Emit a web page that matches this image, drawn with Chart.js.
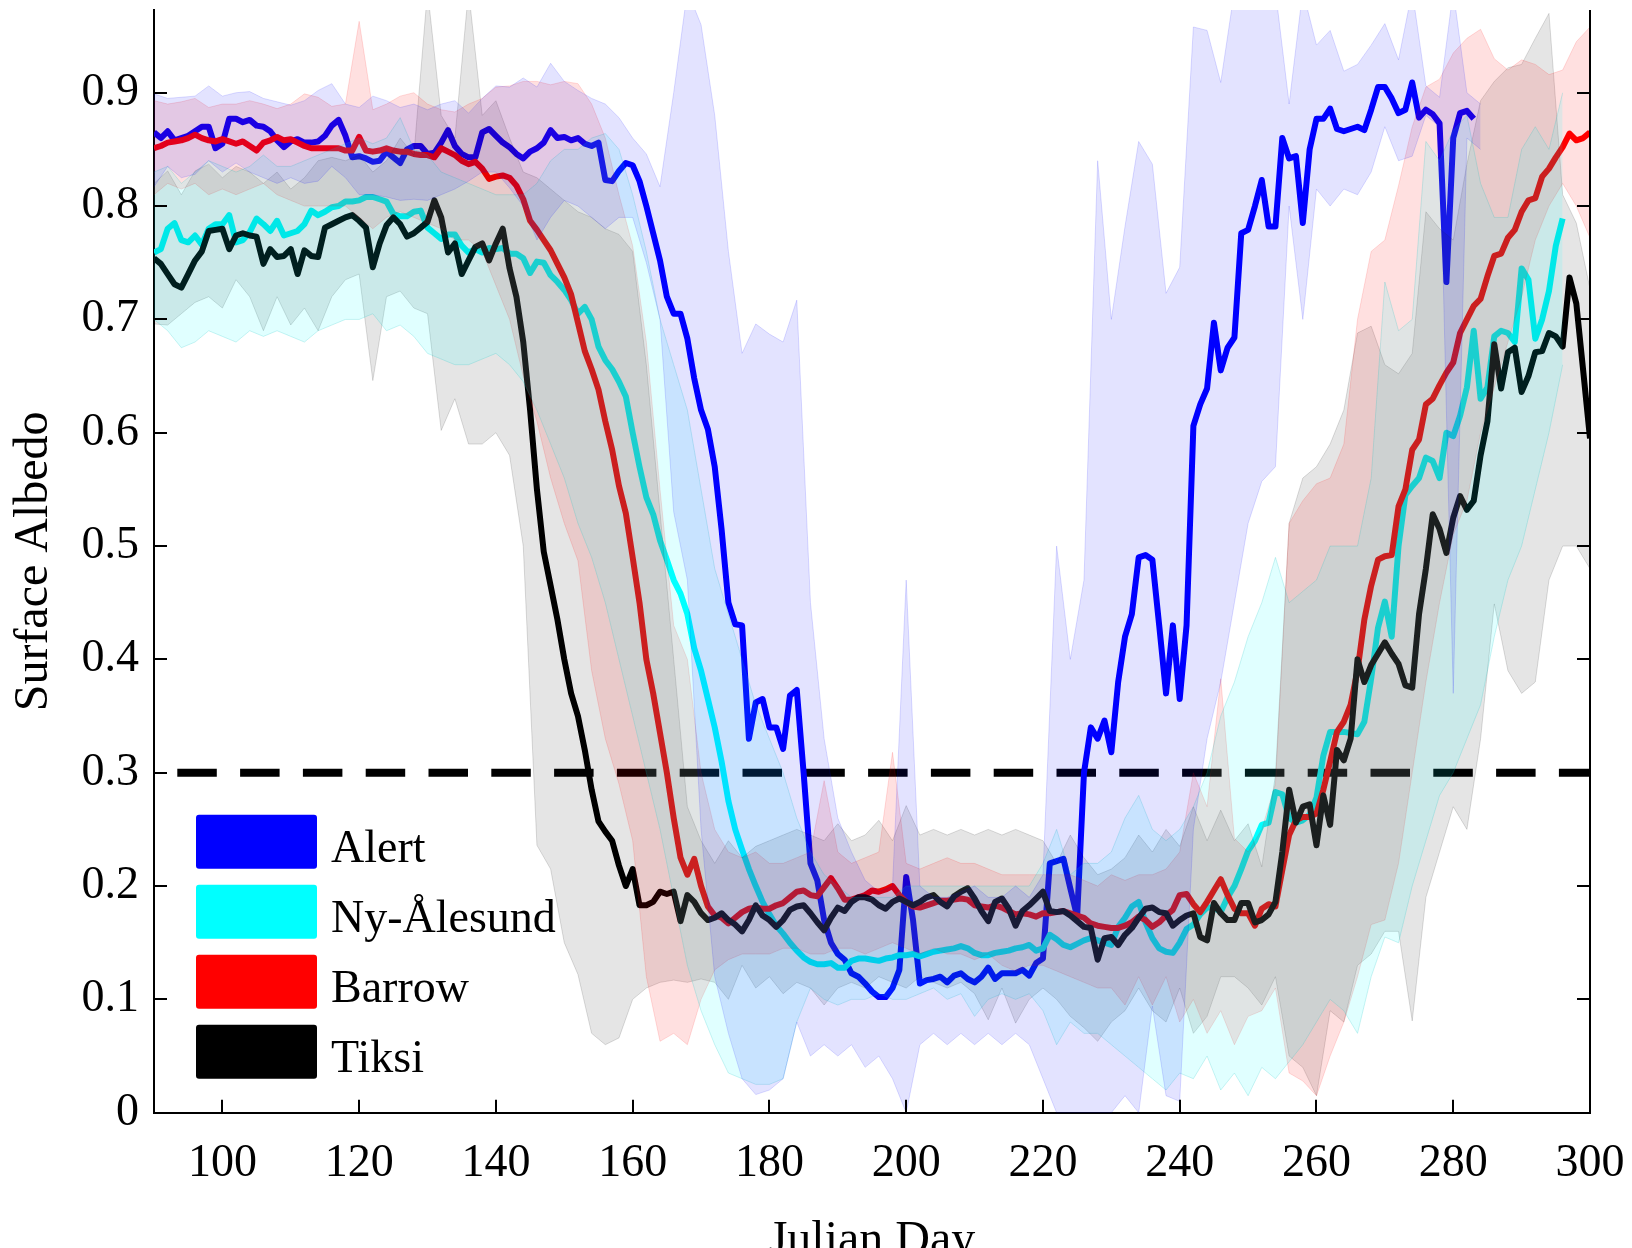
<!DOCTYPE html>
<html lang="en">
<head>
<meta charset="UTF-8">
<title>Surface Albedo by Julian Day</title>
<script src="https://cdn.jsdelivr.net/npm/chart.js"></script>
<style>
    html, body { margin: 0; padding: 0; background: #ffffff; overflow: hidden; }
    #wrap { width: 1632px; height: 1248px; }
</style>
</head>
<body>
<div id="wrap"><canvas id="albedoChart"></canvas></div>
<script>
// Daily means start on day 90; the spread envelopes are sampled every second day.
const firstDay = 90;
const bandStep = 2;
const dayRange = [90, 300];
const albedoRange = [0, 0.973];
const xTicks = [100, 120, 140, 160, 180, 200, 220, 240, 260, 280, 300];
const yTicks = [0, 0.1, 0.2, 0.3, 0.4, 0.5, 0.6, 0.7, 0.8, 0.9];
const snowThreshold = 0.3;

const stationNames = ['Alert', 'Ny-Ålesund', 'Barrow', 'Tiksi'];
const stationColors = ['#0000ff', '#00ffff', '#ff0000', '#000000'];
const bandFills = ['rgba(0, 0, 255, 0.11)', 'rgba(0, 255, 255, 0.12)', 'rgba(255, 0, 0, 0.12)', 'rgba(0, 0, 0, 0.10)'];
const bandEdges = ['rgba(0, 0, 255, 0.14)', 'rgba(0, 190, 190, 0.20)', 'rgba(255, 0, 0, 0.14)', 'rgba(0, 0, 0, 0.14)'];

// Alert, days 90-283
const alertMean = [
    0.865, 0.860, 0.866, 0.858, 0.860, 0.862, 0.866, 0.870, 0.870, 0.851,
    0.855, 0.877, 0.877, 0.874, 0.876, 0.871, 0.870, 0.866, 0.858, 0.852,
    0.857, 0.859, 0.856, 0.856, 0.857, 0.862, 0.871, 0.876, 0.862, 0.843,
    0.844, 0.842, 0.839, 0.840, 0.848, 0.843, 0.838, 0.850, 0.853, 0.853,
    0.846, 0.847, 0.856, 0.867, 0.853, 0.846, 0.843, 0.843, 0.865, 0.868,
    0.862, 0.856, 0.852, 0.846, 0.842, 0.848, 0.851, 0.856, 0.867, 0.860,
    0.861, 0.858, 0.860, 0.855, 0.853, 0.856, 0.823, 0.822, 0.831, 0.838,
    0.836, 0.822, 0.800, 0.776, 0.752, 0.720, 0.705, 0.705, 0.683, 0.648,
    0.620, 0.603, 0.570, 0.515, 0.450, 0.431, 0.430, 0.330, 0.362, 0.365,
    0.340, 0.340, 0.321, 0.368, 0.373, 0.300, 0.220, 0.205, 0.170, 0.150,
    0.140, 0.135, 0.123, 0.120, 0.114, 0.107, 0.102, 0.102, 0.110, 0.126,
    0.208, 0.170, 0.114, 0.117, 0.118, 0.120, 0.115, 0.121, 0.123, 0.118,
    0.115, 0.120, 0.128, 0.118, 0.123, 0.123, 0.123, 0.126, 0.121, 0.132,
    0.136, 0.220, 0.222, 0.224, 0.198, 0.173, 0.300, 0.340, 0.330, 0.346,
    0.318, 0.380, 0.420, 0.440, 0.490, 0.492, 0.488, 0.430, 0.370, 0.430,
    0.365, 0.430, 0.606, 0.625, 0.639, 0.697, 0.655, 0.675, 0.684, 0.776,
    0.779, 0.800, 0.823, 0.782, 0.782, 0.860, 0.842, 0.844, 0.785, 0.850,
    0.877, 0.877, 0.886, 0.868, 0.866, 0.868, 0.870, 0.867, 0.885, 0.905,
    0.905, 0.895, 0.882, 0.885, 0.909, 0.878, 0.885, 0.881, 0.873, 0.733,
    0.860, 0.882, 0.884, 0.877
];
// Alert envelope, even days 90-284
const alertHigh = [
    0.899, 0.895, 0.896, 0.897, 0.906, 0.897, 0.900, 0.901, 0.895, 0.892,
    0.889, 0.893, 0.902, 0.908, 0.890, 0.887, 0.897, 0.893, 0.887, 0.890,
    0.885, 0.890, 0.893, 0.882, 0.895, 0.906, 0.905, 0.913, 0.905, 0.926,
    0.910, 0.902, 0.895, 0.890, 0.878, 0.860, 0.846, 0.817, 0.900, 0.990,
    0.960, 0.880, 0.760, 0.670, 0.696, 0.687, 0.680, 0.717, 0.450, 0.330,
    0.260, 0.230, 0.205, 0.195, 0.200, 0.470, 0.200, 0.190, 0.190, 0.195,
    0.200, 0.190, 0.190, 0.200, 0.190, 0.210, 0.500, 0.400, 0.470, 0.840,
    0.700, 0.782, 0.857, 0.837, 0.723, 0.746, 0.958, 0.955, 0.909, 0.990,
    0.990, 0.990, 0.990, 0.890, 0.990, 0.942, 0.955, 0.919, 0.925, 0.942,
    0.961, 0.929, 0.990, 0.906, 0.896, 0.990, 0.900, 0.890
];
const alertLow = [
    0.817, 0.835, 0.825, 0.828, 0.840, 0.830, 0.838, 0.830, 0.825, 0.820,
    0.825, 0.820, 0.822, 0.835, 0.825, 0.810, 0.810, 0.808, 0.805, 0.806,
    0.805, 0.810, 0.815, 0.822, 0.830, 0.830, 0.816, 0.800, 0.770, 0.790,
    0.805, 0.800, 0.790, 0.780, 0.790, 0.790, 0.750, 0.700, 0.530, 0.470,
    0.250, 0.120, 0.070, 0.030, 0.016, 0.020, 0.030, 0.080, 0.050, 0.060,
    0.050, 0.060, 0.040, 0.050, 0.030, 0.000, 0.060, 0.070, 0.060, 0.070,
    0.060, 0.070, 0.060, 0.070, 0.060, 0.030, 0.000, 0.000, 0.000, 0.000,
    0.000, 0.015, 0.000, 0.094, 0.015, 0.010, 0.250, 0.330, 0.380, 0.450,
    0.520, 0.557, 0.570, 0.800, 0.700, 0.815, 0.800, 0.815, 0.810, 0.830,
    0.870, 0.840, 0.844, 0.880, 0.870, 0.370, 0.860, 0.850
];

// Ny-Ålesund, days 90-296
const nyMean = [
    0.759, 0.762, 0.780, 0.785, 0.770, 0.768, 0.774, 0.766, 0.780, 0.784,
    0.784, 0.792, 0.768, 0.770, 0.777, 0.789, 0.784, 0.778, 0.787, 0.774,
    0.776, 0.778, 0.784, 0.796, 0.792, 0.795, 0.799, 0.800, 0.804, 0.804,
    0.805, 0.808, 0.808, 0.806, 0.804, 0.793, 0.791, 0.791, 0.795, 0.796,
    0.781, 0.776, 0.771, 0.775, 0.775, 0.765, 0.759, 0.762, 0.759, 0.763,
    0.762, 0.763, 0.758, 0.758, 0.754, 0.741, 0.751, 0.750, 0.739, 0.733,
    0.726, 0.717, 0.705, 0.711, 0.700, 0.676, 0.664, 0.656, 0.645, 0.632,
    0.600, 0.570, 0.543, 0.528, 0.505, 0.488, 0.470, 0.458, 0.440, 0.410,
    0.390, 0.365, 0.340, 0.310, 0.275, 0.250, 0.232, 0.215, 0.200, 0.186,
    0.175, 0.165, 0.158, 0.150, 0.143, 0.137, 0.133, 0.131, 0.131, 0.132,
    0.128, 0.128, 0.134, 0.136, 0.136, 0.135, 0.134, 0.136, 0.137, 0.139,
    0.139, 0.140, 0.138, 0.140, 0.142, 0.143, 0.144, 0.145, 0.147, 0.145,
    0.141, 0.139, 0.139, 0.141, 0.142, 0.143, 0.145, 0.146, 0.148, 0.143,
    0.145, 0.157, 0.153, 0.148, 0.146, 0.149, 0.152, 0.154, 0.152, 0.150,
    0.148, 0.164, 0.172, 0.182, 0.186, 0.168, 0.154, 0.145, 0.142, 0.141,
    0.150, 0.162, 0.166, 0.175, 0.181, 0.181, 0.177, 0.190, 0.200, 0.215,
    0.231, 0.240, 0.254, 0.256, 0.283, 0.281, 0.260, 0.256, 0.258, 0.263,
    0.278, 0.315, 0.336, 0.336, 0.336, 0.335, 0.334, 0.345, 0.383, 0.428,
    0.451, 0.420, 0.500, 0.545, 0.553, 0.560, 0.578, 0.575, 0.560, 0.600,
    0.597, 0.615, 0.640, 0.690, 0.630, 0.640, 0.685, 0.690, 0.688, 0.680,
    0.745, 0.735, 0.683, 0.700, 0.725, 0.765, 0.789
];
// Ny-Ålesund envelope, even days 90-296
const nyHigh = [
    0.830, 0.835, 0.820, 0.830, 0.840, 0.835, 0.830, 0.835, 0.845, 0.835,
    0.835, 0.840, 0.845, 0.850, 0.855, 0.860, 0.855, 0.860, 0.878, 0.850,
    0.845, 0.830, 0.825, 0.820, 0.815, 0.810, 0.810, 0.810, 0.820, 0.840,
    0.850, 0.850, 0.860, 0.864, 0.850, 0.810, 0.760, 0.700, 0.660, 0.620,
    0.550, 0.480, 0.440, 0.400, 0.360, 0.330, 0.300, 0.260, 0.230, 0.210,
    0.200, 0.190, 0.190, 0.190, 0.190, 0.200, 0.200, 0.200, 0.200, 0.200,
    0.200, 0.200, 0.200, 0.200, 0.200, 0.220, 0.250, 0.210, 0.220, 0.220,
    0.230, 0.260, 0.280, 0.250, 0.240, 0.250, 0.270, 0.300, 0.350, 0.380,
    0.420, 0.450, 0.490, 0.450, 0.460, 0.470, 0.500, 0.500, 0.500, 0.560,
    0.733, 0.690, 0.700, 0.857, 0.840, 0.867, 0.880, 0.820, 0.790, 0.790,
    0.850, 0.870, 0.850, 0.900
];
const nyLow = [
    0.700, 0.690, 0.675, 0.680, 0.690, 0.685, 0.680, 0.690, 0.685, 0.690,
    0.685, 0.680, 0.690, 0.695, 0.700, 0.700, 0.705, 0.690, 0.695, 0.685,
    0.670, 0.665, 0.660, 0.660, 0.665, 0.670, 0.660, 0.645, 0.620, 0.590,
    0.560, 0.520, 0.490, 0.450, 0.400, 0.350, 0.300, 0.250, 0.190, 0.130,
    0.090, 0.060, 0.035, 0.030, 0.025, 0.025, 0.030, 0.080, 0.110, 0.100,
    0.095, 0.100, 0.100, 0.105, 0.100, 0.100, 0.105, 0.110, 0.100, 0.105,
    0.085, 0.100, 0.105, 0.100, 0.105, 0.090, 0.060, 0.080, 0.070, 0.070,
    0.060, 0.050, 0.040, 0.030, 0.020, 0.035, 0.030, 0.050, 0.020, 0.035,
    0.015, 0.040, 0.030, 0.045, 0.060, 0.080, 0.100, 0.090, 0.070, 0.120,
    0.155, 0.150, 0.200, 0.240, 0.280, 0.300, 0.330, 0.360, 0.420, 0.470,
    0.500, 0.550, 0.600, 0.660
];

// Barrow, days 90-300
const barrowMean = [
    0.851, 0.853, 0.856, 0.857, 0.858, 0.860, 0.863, 0.860, 0.858, 0.857,
    0.859, 0.857, 0.855, 0.857, 0.853, 0.849, 0.856, 0.858, 0.861, 0.858,
    0.859, 0.856, 0.853, 0.851, 0.851, 0.851, 0.851, 0.851, 0.849, 0.849,
    0.861, 0.849, 0.848, 0.849, 0.851, 0.849, 0.848, 0.848, 0.846, 0.845,
    0.845, 0.843, 0.851, 0.848, 0.845, 0.840, 0.837, 0.839, 0.833, 0.824,
    0.826, 0.827, 0.825, 0.818, 0.806, 0.787, 0.779, 0.770, 0.761, 0.749,
    0.737, 0.722, 0.697, 0.672, 0.656, 0.638, 0.610, 0.585, 0.553, 0.529,
    0.490, 0.450, 0.400, 0.370, 0.335, 0.300, 0.260, 0.225, 0.210, 0.224,
    0.200, 0.182, 0.174, 0.172, 0.167, 0.172, 0.177, 0.180, 0.181, 0.180,
    0.180, 0.183, 0.185, 0.190, 0.195, 0.196, 0.192, 0.191, 0.199, 0.207,
    0.198, 0.188, 0.188, 0.190, 0.192, 0.196, 0.195, 0.197, 0.200, 0.192,
    0.186, 0.182, 0.181, 0.183, 0.185, 0.187, 0.187, 0.188, 0.189, 0.188,
    0.183, 0.182, 0.181, 0.183, 0.181, 0.178, 0.175, 0.176, 0.175, 0.173,
    0.176, 0.176, 0.177, 0.178, 0.176, 0.174, 0.172, 0.167, 0.165, 0.164,
    0.163, 0.163, 0.165, 0.168, 0.173, 0.170, 0.164, 0.168, 0.174, 0.179,
    0.192, 0.193, 0.184, 0.177, 0.186, 0.196, 0.206, 0.192, 0.180, 0.176,
    0.176, 0.165, 0.180, 0.184, 0.182, 0.214, 0.245, 0.258, 0.261, 0.261,
    0.264, 0.285, 0.310, 0.336, 0.345, 0.360, 0.390, 0.435, 0.465, 0.488,
    0.491, 0.492, 0.535, 0.550, 0.585, 0.594, 0.625, 0.630, 0.642, 0.653,
    0.662, 0.688, 0.700, 0.712, 0.718, 0.738, 0.756, 0.758, 0.772, 0.779,
    0.795, 0.805, 0.807, 0.826, 0.833, 0.843, 0.852, 0.864, 0.858, 0.860,
    0.865
];
// Barrow envelope, even days 90-300
const barrowHigh = [
    0.893, 0.890, 0.892, 0.895, 0.887, 0.890, 0.890, 0.893, 0.890, 0.886,
    0.890, 0.899, 0.896, 0.888, 0.890, 0.963, 0.885, 0.890, 0.897, 0.900,
    0.890, 0.885, 0.883, 0.890, 0.895, 0.905, 0.906, 0.910, 0.910, 0.907,
    0.910, 0.908, 0.890, 0.860, 0.810, 0.765, 0.680, 0.550, 0.430, 0.400,
    0.300, 0.250, 0.230, 0.225, 0.230, 0.220, 0.220, 0.225, 0.230, 0.293,
    0.230, 0.220, 0.225, 0.230, 0.318, 0.220, 0.215, 0.220, 0.225, 0.220,
    0.220, 0.215, 0.210, 0.210, 0.210, 0.210, 0.210, 0.210, 0.205, 0.200,
    0.210, 0.205, 0.210, 0.210, 0.215, 0.230, 0.300, 0.270, 0.383, 0.242,
    0.230, 0.250, 0.290, 0.520, 0.540, 0.555, 0.560, 0.590, 0.700, 0.760,
    0.770, 0.818, 0.870, 0.905, 0.912, 0.935, 0.948, 0.956, 0.930, 0.920,
    0.929, 0.925, 0.916, 0.920, 0.945, 0.958
];
const barrowLow = [
    0.810, 0.820, 0.815, 0.820, 0.810, 0.815, 0.810, 0.815, 0.820, 0.810,
    0.805, 0.800, 0.800, 0.800, 0.800, 0.790, 0.780, 0.790, 0.795, 0.790,
    0.785, 0.780, 0.770, 0.770, 0.760, 0.730, 0.700, 0.650, 0.610, 0.560,
    0.520, 0.487, 0.390, 0.330, 0.290, 0.240, 0.120, 0.063, 0.070, 0.060,
    0.100, 0.126, 0.135, 0.140, 0.140, 0.140, 0.145, 0.145, 0.140, 0.140,
    0.145, 0.145, 0.140, 0.145, 0.150, 0.145, 0.140, 0.145, 0.140, 0.140,
    0.135, 0.140, 0.130, 0.125, 0.130, 0.130, 0.125, 0.120, 0.115, 0.110,
    0.110, 0.095, 0.120, 0.095, 0.120, 0.080, 0.100, 0.070, 0.090, 0.060,
    0.085, 0.090, 0.110, 0.035, 0.028, 0.015, 0.050, 0.080, 0.120, 0.166,
    0.170, 0.220, 0.300, 0.380, 0.450, 0.510, 0.540, 0.600, 0.640, 0.680,
    0.720, 0.770, 0.800, 0.820, 0.800, 0.772
];

// Tiksi, days 90-300
const tiksiMean = [
    0.754, 0.749, 0.740, 0.731, 0.728, 0.740, 0.752, 0.760, 0.778, 0.779,
    0.780, 0.762, 0.774, 0.776, 0.774, 0.773, 0.749, 0.762, 0.755, 0.756,
    0.762, 0.740, 0.761, 0.756, 0.755, 0.781, 0.784, 0.787, 0.790, 0.792,
    0.787, 0.781, 0.746, 0.767, 0.783, 0.790, 0.784, 0.773, 0.776, 0.781,
    0.786, 0.805, 0.790, 0.759, 0.767, 0.740, 0.752, 0.764, 0.767, 0.752,
    0.767, 0.780, 0.745, 0.720, 0.680, 0.620, 0.550, 0.495, 0.465, 0.435,
    0.400, 0.370, 0.350, 0.320, 0.285, 0.257, 0.248, 0.240, 0.218, 0.200,
    0.215, 0.183, 0.183, 0.186, 0.195, 0.193, 0.195, 0.169, 0.192, 0.186,
    0.176, 0.170, 0.172, 0.176, 0.170, 0.166, 0.160, 0.170, 0.183, 0.174,
    0.170, 0.164, 0.170, 0.179, 0.182, 0.183, 0.176, 0.168, 0.161, 0.172,
    0.181, 0.178, 0.186, 0.190, 0.190, 0.188, 0.183, 0.180, 0.186, 0.189,
    0.186, 0.183, 0.186, 0.190, 0.192, 0.186, 0.182, 0.191, 0.195, 0.198,
    0.189, 0.178, 0.169, 0.186, 0.189, 0.180, 0.165, 0.178, 0.183, 0.189,
    0.195, 0.178, 0.177, 0.178, 0.174, 0.169, 0.164, 0.163, 0.135, 0.154,
    0.155, 0.148, 0.157, 0.163, 0.172, 0.180, 0.181, 0.177, 0.176, 0.165,
    0.170, 0.174, 0.176, 0.155, 0.152, 0.185, 0.176, 0.170, 0.170, 0.185,
    0.185, 0.168, 0.170, 0.175, 0.186, 0.230, 0.285, 0.256, 0.270, 0.272,
    0.236, 0.280, 0.254, 0.320, 0.311, 0.330, 0.400, 0.380, 0.395, 0.405,
    0.415, 0.405, 0.396, 0.377, 0.375, 0.440, 0.480, 0.528, 0.515, 0.494,
    0.525, 0.544, 0.532, 0.540, 0.580, 0.610, 0.678, 0.639, 0.671, 0.675,
    0.636, 0.650, 0.671, 0.672, 0.688, 0.685, 0.676, 0.737, 0.714, 0.655,
    0.595
];
// Tiksi envelope, even days 90-300
const tiksiHigh = [
    0.820, 0.831, 0.810, 0.831, 0.837, 0.825, 0.835, 0.830, 0.820, 0.830,
    0.815, 0.825, 0.840, 0.843, 0.840, 0.845, 0.830, 0.840, 0.860, 0.845,
    0.990, 0.880, 0.860, 0.990, 0.880, 0.893, 0.860, 0.830, 0.825, 0.815,
    0.805, 0.795, 0.790, 0.780, 0.775, 0.760, 0.660, 0.530, 0.400, 0.270,
    0.240, 0.220, 0.240, 0.225, 0.235, 0.240, 0.245, 0.250, 0.245, 0.240,
    0.255, 0.240, 0.245, 0.258, 0.240, 0.271, 0.245, 0.250, 0.245, 0.250,
    0.245, 0.250, 0.245, 0.250, 0.245, 0.240, 0.220, 0.245, 0.225, 0.210,
    0.215, 0.225, 0.245, 0.230, 0.250, 0.235, 0.270, 0.240, 0.267, 0.240,
    0.255, 0.217, 0.298, 0.520, 0.560, 0.570, 0.590, 0.620, 0.688, 0.694,
    0.660, 0.652, 0.670, 0.795, 0.780, 0.770, 0.837, 0.893, 0.910, 0.922,
    0.925, 0.948, 0.970, 0.810, 0.785, 0.727
];
const tiksiLow = [
    0.696, 0.695, 0.705, 0.715, 0.720, 0.710, 0.735, 0.720, 0.690, 0.720,
    0.695, 0.710, 0.690, 0.720, 0.735, 0.740, 0.646, 0.720, 0.725, 0.710,
    0.705, 0.602, 0.630, 0.590, 0.590, 0.600, 0.580, 0.500, 0.236, 0.215,
    0.150, 0.122, 0.070, 0.060, 0.066, 0.100, 0.110, 0.115, 0.117, 0.115,
    0.118, 0.115, 0.100, 0.130, 0.110, 0.120, 0.105, 0.115, 0.110, 0.095,
    0.110, 0.115, 0.110, 0.120, 0.115, 0.110, 0.120, 0.115, 0.110, 0.115,
    0.105, 0.082, 0.110, 0.079, 0.100, 0.110, 0.100, 0.085, 0.075, 0.063,
    0.080, 0.090, 0.110, 0.090, 0.080, 0.110, 0.070, 0.085, 0.120, 0.120,
    0.110, 0.095, 0.120, 0.050, 0.040, 0.015, 0.090, 0.080, 0.130, 0.140,
    0.160, 0.160, 0.081, 0.190, 0.230, 0.270, 0.250, 0.330, 0.449, 0.390,
    0.370, 0.380, 0.470, 0.500, 0.500, 0.480
];

const means = [alertMean, nyMean, barrowMean, tiksiMean];
const highs = [alertHigh, nyHigh, barrowHigh, tiksiHigh];
const lows = [alertLow, nyLow, barrowLow, tiksiLow];

const toPoints = (values, step) => values.map((v, i) => ({ x: firstDay + i * step, y: v }));

const serif = "'Liberation Serif', 'Times New Roman', serif";

const datasets = [];
// mean curves: Alert drawn first, Tiksi last
stationNames.forEach((name, i) => {
    datasets.push({
        label: name,
        data: toPoints(means[i], 1),
        borderColor: stationColors[i],
        backgroundColor: stationColors[i],
        borderWidth: 6,
        borderJoinStyle: 'round',
        pointRadius: 0,
        tension: 0,
        fill: false,
        order: 10 - i,
        isStation: true
    });
});
datasets.push({
    label: 'Albedo 0.3',
    data: [{ x: dayRange[0], y: snowThreshold }, { x: dayRange[1], y: snowThreshold }],
    borderColor: '#000000',
    borderWidth: 8,
    borderDash: [39.5, 23.3],
    borderDashOffset: 39.5,
    pointRadius: 0,
    fill: false,
    order: 20
});
// translucent spread envelopes laid over the curves
stationNames.forEach((name, i) => {
    datasets.push({
        label: name + ' upper',
        data: toPoints(highs[i], bandStep),
        borderColor: bandEdges[i],
        backgroundColor: bandFills[i],
        borderWidth: 1,
        pointRadius: 0,
        tension: 0,
        fill: '+1',
        clip: 0,
        order: 1
    });
    datasets.push({
        label: name + ' lower',
        data: toPoints(lows[i], bandStep),
        borderColor: bandEdges[i],
        borderWidth: 1,
        pointRadius: 0,
        tension: 0,
        fill: false,
        clip: 0,
        order: 1
    });
});

// right-hand spine plus inward tick marks on every side that has them
const axisFrame = {
    id: 'axisFrame',
    afterDraw(chart) {
        const { ctx, chartArea: area, scales } = chart;
        const tickLen = 13;
        ctx.save();
        ctx.strokeStyle = '#000000';
        ctx.lineWidth = 2;
        ctx.beginPath();
        ctx.moveTo(area.right, area.top);
        ctx.lineTo(area.right, area.bottom);
        xTicks.forEach(v => {
            const px = Math.round(scales.x.getPixelForValue(v));
            ctx.moveTo(px, area.bottom);
            ctx.lineTo(px, area.bottom - tickLen);
        });
        yTicks.forEach(v => {
            const py = Math.round(scales.y.getPixelForValue(v));
            ctx.moveTo(area.left, py);
            ctx.lineTo(area.left + tickLen, py);
            ctx.moveTo(area.right, py);
            ctx.lineTo(area.right - tickLen, py);
        });
        ctx.stroke();
        ctx.restore();
    }
};

// station key in the lower-left corner of the plot
const stationKey = {
    id: 'stationKey',
    afterDraw(chart) {
        const { ctx, chartArea: area } = chart;
        const items = chart.data.datasets.filter(d => d.isStation);
        const boxW = 121, boxH = 54, rowStep = 70;
        const left = area.left + 42;
        const top = area.bottom - 298;
        ctx.save();
        ctx.font = '46px ' + serif;
        ctx.textBaseline = 'middle';
        ctx.textAlign = 'left';
        items.forEach((d, i) => {
            const y = top + i * rowStep;
            ctx.fillStyle = d.borderColor;
            ctx.beginPath();
            ctx.roundRect(left, y, boxW, boxH, 3);
            ctx.fill();
            ctx.fillStyle = '#000000';
            ctx.fillText(d.label, left + boxW + 14, y + boxH / 2 + 8);
        });
        ctx.restore();
    }
};

new Chart(document.getElementById('albedoChart'), {
    type: 'line',
    data: { datasets },
    options: {
        responsive: true,
        maintainAspectRatio: false,
        devicePixelRatio: 1,
        animation: false,
        events: [],
        layout: { padding: { top: 10, right: 42, left: 0, bottom: 0 } },
        plugins: {
            legend: { display: false },
            tooltip: { enabled: false }
        },
        scales: {
            x: {
                type: 'linear',
                min: dayRange[0],
                max: dayRange[1],
                afterBuildTicks: s => { s.ticks = xTicks.map(v => ({ value: v })); },
                afterFit: s => { s.height = 135.3; s.paddingLeft = 0; s.paddingRight = 0; },
                ticks: {
                    color: '#000000',
                    font: { family: serif, size: 46 },
                    padding: 24,
                    autoSkip: false,
                    maxRotation: 0
                },
                grid: { display: false, drawTicks: false },
                border: { display: true, color: '#000000', width: 2 },
                title: {
                    display: true,
                    text: 'Julian Day',
                    color: '#000000',
                    font: { family: serif, size: 48 },
                    padding: { top: 0, bottom: -22 }
                }
            },
            y: {
                type: 'linear',
                min: albedoRange[0],
                max: albedoRange[1],
                afterBuildTicks: s => { s.ticks = yTicks.map(v => ({ value: v })); },
                afterFit: s => { s.width = 154; s.paddingTop = 0; s.paddingBottom = 0; },
                ticks: {
                    color: '#000000',
                    font: { family: serif, size: 46 },
                    padding: 15,
                    callback: v => (v === 0 ? '0' : v.toFixed(1))
                },
                grid: { display: false, drawTicks: false },
                border: { display: true, color: '#000000', width: 2 },
                title: {
                    display: true,
                    text: 'Surface Albedo',
                    color: '#000000',
                    font: { family: serif, size: 48 },
                    padding: { top: 6, bottom: 0 }
                }
            }
        }
    },
    plugins: [axisFrame, stationKey]
});
</script>
</body>
</html>
